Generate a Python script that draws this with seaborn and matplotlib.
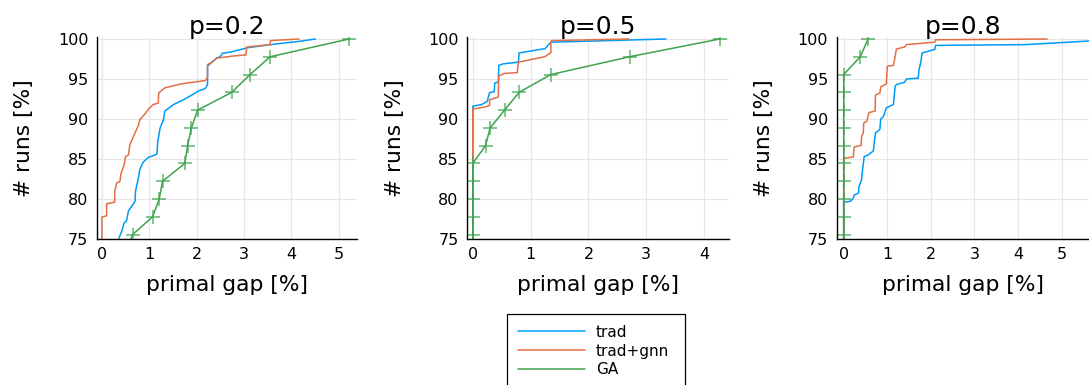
import matplotlib
matplotlib.use("Agg")
import matplotlib.pyplot as plt
from matplotlib.patches import Rectangle
import seaborn as sns

# colours of the three methods
C_TRAD = "#009af9"
C_GNN = "#e26f46"
C_GA = "#3da44d"

# ---- p=0.2 ----
P2_TRAD_X = [0.30, 0.36, 0.42, 0.47, 0.52, 0.56, 0.70, 0.71, 0.77, 0.80,
             0.87, 0.98, 1.12, 1.16, 1.18, 1.23, 1.30, 1.33, 1.51, 1.72,
             1.90, 2.04, 2.18, 2.23, 2.23, 2.32, 2.42, 2.50, 2.54, 2.74,
             3.07, 3.56, 4.16, 4.51]
P2_TRAD_Y = [73.3, 75.1, 76.0, 77.0, 77.3, 78.5, 79.7, 81.0, 82.6, 83.7,
             84.6, 85.2, 85.5, 85.6, 87.2, 88.9, 89.9, 91.0, 91.8, 92.4,
             93.0, 93.5, 93.8, 94.3, 96.6, 97.1, 97.6, 97.8, 98.2, 98.4,
             98.9, 99.3, 99.7, 100.0]
P2_GNN_X = [0.0, 0.0, 0.10, 0.10, 0.27, 0.27, 0.31, 0.38, 0.40, 0.47,
            0.50, 0.56, 0.59, 0.68, 0.77, 0.80, 0.89, 0.98, 1.08, 1.19,
            1.20, 1.33, 1.54, 1.68, 1.93, 2.18, 2.23, 2.23, 2.35, 2.42,
            2.81, 3.04, 3.06, 3.55, 3.56, 4.16]
P2_GNN_Y = [73.0, 77.75, 77.9, 79.4, 79.6, 80.9, 82.0, 82.2, 83.1, 84.3,
            85.3, 85.5, 86.8, 88.0, 89.2, 89.9, 90.5, 91.2, 91.8, 92.0,
            93.25, 93.9, 94.2, 94.4, 94.6, 94.8, 95.2, 96.8, 97.2, 97.6,
            97.9, 98.0, 99.0, 99.3, 99.8, 100.0]
P2_GA_X = [0.50, 0.65, 1.07, 1.21, 1.28, 1.75, 1.81, 1.89, 2.02, 2.74, 3.13, 3.55, 5.22]
P2_GA_Y = [73.33, 75.56, 77.78, 80.0, 82.22, 84.44, 86.67, 88.89, 91.11, 93.33, 95.56, 97.78, 100.0]

# ---- p=0.5 ----
P5_TRAD_X = [0.0, 0.0, 0.15, 0.25, 0.29, 0.37, 0.38, 0.44, 0.45, 0.53, 0.79, 0.80, 1.25, 1.35, 3.34]
P5_TRAD_Y = [73.0, 91.6, 91.8, 92.2, 93.3, 93.4, 94.5, 94.6, 96.7, 96.9, 97.1, 98.25, 98.8, 99.6, 100.0]
P5_GNN_X = [0.0, 0.0, 0.21, 0.29, 0.29, 0.44, 0.45, 0.55, 0.77, 0.79, 1.25, 1.35, 1.35, 1.36, 2.70]
P5_GNN_Y = [73.0, 91.25, 91.5, 91.7, 92.4, 92.75, 95.4, 95.7, 95.8, 97.1, 97.8, 98.3, 99.6, 99.8, 100.0]
P5_GA_X = [0.0, 0.0, 0.0, 0.0, 0.0, 0.0, 0.22, 0.30, 0.55, 0.80, 1.35, 2.71, 4.27]
P5_GA_Y = [73.33, 75.56, 77.78, 80.0, 82.22, 84.44, 86.67, 88.89, 91.11, 93.33, 95.56, 97.78, 100.0]

# ---- p=0.8 ----
P8_TRAD_X = [0.0, 0.0, 0.15, 0.22, 0.24, 0.34, 0.35, 0.41, 0.43, 0.47,
             0.56, 0.68, 0.70, 0.73, 0.83, 0.85, 0.91, 0.98, 1.14, 1.16,
             1.18, 1.21, 1.40, 1.44, 1.71, 1.73, 1.77, 1.80, 2.09, 2.11,
             4.19, 5.63, 6.2]
P8_TRAD_Y = [73.0, 79.6, 79.7, 80.1, 80.5, 80.75, 81.5, 82.4, 83.5, 85.3,
             85.5, 86.0, 87.0, 88.25, 88.7, 90.0, 90.3, 91.4, 91.8, 92.8,
             94.1, 94.3, 94.6, 95.0, 95.1, 96.2, 97.1, 98.25, 98.7, 99.2,
             99.3, 99.75, 100.0]
P8_GNN_X = [0.0, 0.0, 0.22, 0.24, 0.40, 0.41, 0.45, 0.46, 0.53, 0.58,
            0.72, 0.73, 0.83, 0.85, 0.98, 1.00, 1.14, 1.16, 1.21, 1.40,
            1.44, 2.09, 2.11, 4.67]
P8_GNN_Y = [73.0, 85.1, 85.25, 86.5, 86.7, 87.8, 88.25, 89.5, 89.7, 90.8,
            91.0, 93.0, 93.25, 94.0, 94.4, 96.6, 96.7, 97.2, 98.75, 99.0,
            99.3, 99.6, 99.9, 100.0]
P8_GA_X = [0.0, 0.0, 0.0, 0.0, 0.0, 0.0, 0.0, 0.0, 0.0, 0.0, 0.0, 0.38, 0.56]
P8_GA_Y = [73.33, 75.56, 77.78, 80.0, 82.22, 84.44, 86.67, 88.89, 91.11, 93.33, 95.56, 97.78, 100.0]

TITLES = ["p=0.2", "p=0.5", "p=0.8"]
LABELS = ["trad", "trad+gnn", "GA"]
X_TICKS = [[0, 1, 2, 3, 4, 5], [0, 1, 2, 3, 4], [0, 1, 2, 3, 4, 5]]
Y_TICKS = [75, 80, 85, 90, 95, 100]


def main():
    sns.set_style("white")
    plt.rcParams["font.family"] = ["DejaVu Sans"]
    plt.rcParams["text.color"] = "black"
    plt.rcParams["axes.labelcolor"] = "black"

    fig = plt.figure(figsize=(10.89, 3.85), dpi=100)
    W, H = 1089, 385
    # axes boxes in pixels: left, right
    boxes = [(96.7, 356.7), (467.0, 729.0), (836.5, 1089.0)]
    xlims = [(-0.11, 5.38), (-0.10, 4.43), (-0.165, 5.63)]
    y_top = 100.25  # small headroom so lines at 100 are not cut
    top_px = 239 - (y_top - 75) * 8
    panels = [
        (P2_TRAD_X, P2_TRAD_Y, P2_GNN_X, P2_GNN_Y, P2_GA_X, P2_GA_Y),
        (P5_TRAD_X, P5_TRAD_Y, P5_GNN_X, P5_GNN_Y, P5_GA_X, P5_GA_Y),
        (P8_TRAD_X, P8_TRAD_Y, P8_GNN_X, P8_GNN_Y, P8_GA_X, P8_GA_Y),
    ]

    axes = []
    for i, (l, r) in enumerate(boxes):
        ax = fig.add_axes([l / W, 1 - 239 / H, (r - l) / W, (239 - top_px) / H])
        tx, ty, gx, gy, ax_, ay = panels[i]
        sns.lineplot(x=tx, y=ty, ax=ax, color=C_TRAD, sort=False,
                     estimator=None, linewidth=1.1, label=LABELS[0])
        sns.lineplot(x=gx, y=gy, ax=ax, color=C_GNN, sort=False,
                     estimator=None, linewidth=1.1, label=LABELS[1])
        sns.lineplot(x=ax_, y=ay, ax=ax, color=C_GA, sort=False,
                     estimator=None, linewidth=1.1, label=LABELS[2],
                     marker="+", markersize=10, markeredgewidth=1.2,
                     markeredgecolor=(0.24, 0.64, 0.30, 0.75))
        ax.get_legend().remove()

        ax.set_xlim(*xlims[i])
        ax.set_ylim(75, y_top)
        ax.set_xticks(X_TICKS[i])
        ax.set_yticks(Y_TICKS)
        ax.grid(True, color="#e6e6e6", linewidth=0.8)
        ax.set_axisbelow(True)
        for s in ["top", "right"]:
            ax.spines[s].set_visible(False)
        for s in ["left", "bottom"]:
            ax.spines[s].set_color("black")
            ax.spines[s].set_linewidth(1.0)
        ax.tick_params(direction="in", length=4.5, width=1.1, labelsize=11.5,
                       colors="black", pad=6)
        ax.set_title(TITLES[i], fontsize=18, pad=2)
        ax.set_xlabel("primal gap [%]", fontsize=15.7, labelpad=9)
        ax.set_ylabel("# runs [%]", fontsize=15.7, labelpad=17)
        axes.append(ax)

    handles, labels = axes[0].get_legend_handles_labels()
    leg = fig.legend(handles, labels, loc="upper left",
                     bbox_to_anchor=(507.3 / W, 1 - 314 / H),
                     borderaxespad=0, fontsize=11, handlelength=4.4,
                     handletextpad=0.7, labelspacing=0.25, borderpad=0.7,
                     frameon=False)
    for ln in leg.get_lines():
        ln.set_marker("")
    # legend box, its lower edge runs off the bottom of the figure
    fig.patches.append(Rectangle((507.3 / W, -0.05), (685 - 507.3) / W,
                                 (385 - 314) / H + 0.05, transform=fig.transFigure,
                                 fill=False, edgecolor="black", linewidth=0.9))

    fig.savefig("out.png", dpi=100)


if __name__ == "__main__":
    main()
